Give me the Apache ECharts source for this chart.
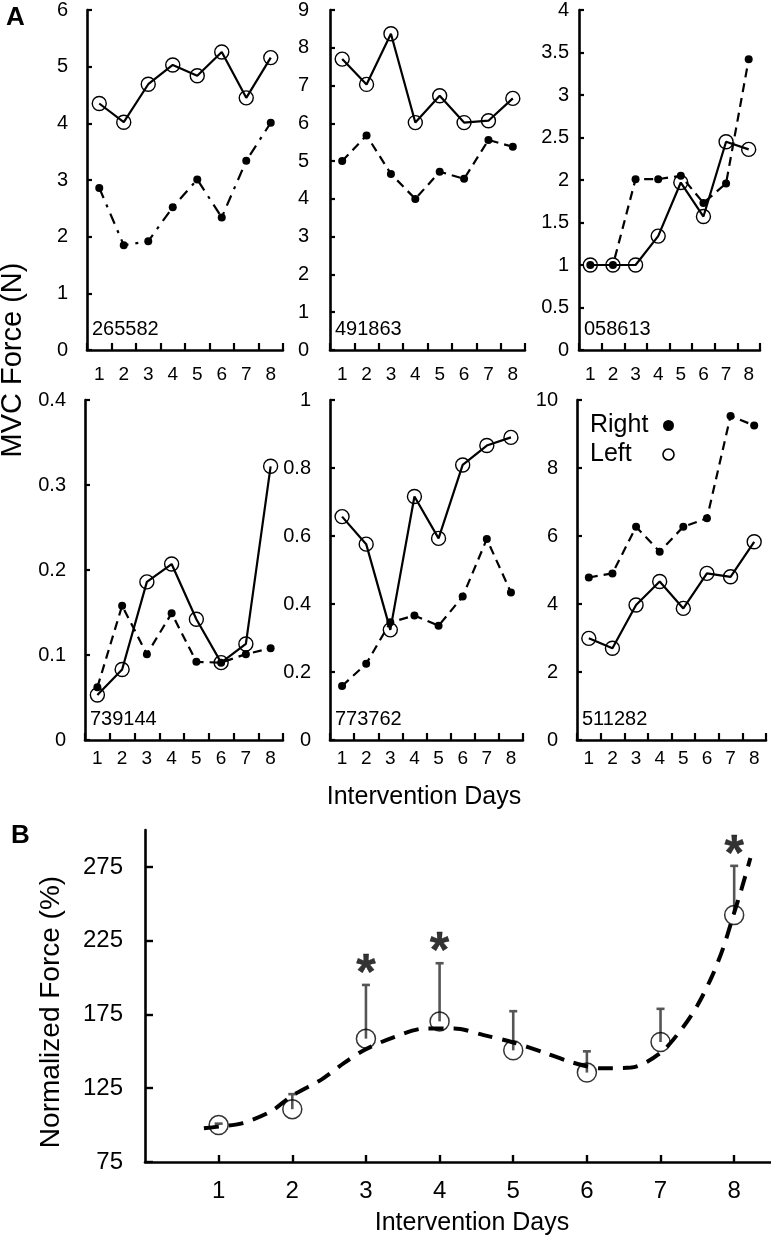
<!DOCTYPE html>
<html><head><meta charset="utf-8">
<script src="https://cdn.jsdelivr.net/npm/echarts@6/dist/echarts.min.js"></script>
<style>html,body{margin:0;padding:0;background:#fff}#c{width:771px;height:1238px}</style>
</head><body><div id="c"></div>
<script>
// ---------- DATA ----------
const days = ['1','2','3','4','5','6','7','8'];
const ids = ['265582','491863','058613','739144','773762','511282'];
const p1Left  = [4.35,4.02,4.69,5.03,4.84,5.26,4.45,5.16];
const p1Right = [2.86,1.85,1.92,2.52,3.01,2.34,3.34,4.01];
const p2Left  = [7.70,7.03,8.37,6.02,6.73,6.02,6.07,6.66];
const p2Right = [5.00,5.68,4.66,4.00,4.72,4.53,5.56,5.38];
const p3Left  = [1.00,1.00,1.00,1.34,1.97,1.57,2.45,2.36];
const p3Right = [1.00,1.00,2.01,2.01,2.05,1.73,1.96,3.42];
const p4Left  = [0.053,0.083,0.186,0.207,0.142,0.091,0.113,0.322];
const p4Right = [0.062,0.158,0.101,0.149,0.092,0.091,0.101,0.108];
const p5Left  = [0.657,0.576,0.324,0.716,0.593,0.809,0.866,0.890];
const p5Right = [0.159,0.224,0.346,0.366,0.336,0.422,0.591,0.434];
const p6Left  = [2.99,2.70,3.97,4.66,3.87,4.90,4.80,5.83];
const p6Right = [4.78,4.90,6.27,5.54,6.27,6.52,9.53,9.25];
const yMax      = [6, 9, 4, 0.4, 1, 10];
const yInterval = [1, 1, 0.5, 0.1, 0.2, 2];

// Panel B
const bDays   = [1,2,3,4,5,6,7,8];
const bMeans  = [100,110.8,158.6,170.3,150.7,135.6,156.3,242.4];
const bErrors = [1.0,10.2,36.4,39.4,26.5,14.4,22.5,33.3];
const bSigDays = [3,4,8];
const curveX = [0.8,1.0,1.3,1.7,2.0,2.4,2.7,3.0,3.4,3.8,4.2,4.6,5.0,5.4,5.8,6.2,6.6,7.0,7.3,7.5,7.7,7.85,8.0,8.1,8.22];
const curveY = [97.8,99,101,109,120,131,142,151.5,160,165.5,165.5,161,156,149.5,142.5,138.5,139,149,166,181,201,220,244,260,281];
const bYTicks = [75,125,175,225,275];
const bXTicks = [1,2,3,4,5,6,7,8];

// ---------- LAYOUT ----------
const FONT = 'Liberation Sans, Arial, sans-serif';
const leftData  = [p1Left,p2Left,p3Left,p4Left,p5Left,p6Left];
const rightData = [p1Right,p2Right,p3Right,p4Right,p5Right,p6Right];
const grids = [
  {left:87, top:10, width:196, height:340},
  {left:330,top:10, width:195, height:340},
  {left:579,top:10, width:181, height:340},
  {left:85, top:400,width:198, height:340},
  {left:330,top:400,width:193, height:340},
  {left:577,top:400,width:189, height:340}
];
const yLabelMargin = [19,21,10,19,19,19];
const xLabelMargin = [15,15,15,9,9,9];

const axisLine = {show:true, lineStyle:{color:'#000', width:2.6}};
const option = {
  animation:false,
  backgroundColor:'#fff',
  textStyle:{fontFamily:FONT, color:'#000'},
  grid: [],
  xAxis: [],
  yAxis: [],
  series: [],
  legend: {
    left:585, top:408, orient:'vertical', align:'right', selectedMode:false,
    itemGap:4, itemWidth:11, itemHeight:11,
    formatter: '{a|{name}}',
    textStyle:{fontSize:25, color:'#000', fontFamily:FONT,
      rich:{a:{width:68, align:'left', fontSize:25, color:'#000', fontFamily:FONT}}},
    data:[
      {name:'Right', icon:'circle', itemStyle:{color:'#000', borderWidth:0}},
      {name:'Left', icon:'circle', itemStyle:{color:'#fff', borderColor:'#000', borderWidth:1.6}}
    ]
  },
  graphic: []
};

for (let i = 0; i < 6; i++) {
  option.grid.push(Object.assign({containLabel:false}, grids[i]));
  option.xAxis.push({
    type:'category', gridIndex:i, data:days, boundaryGap:true,
    axisLine:axisLine,
    axisTick:{show:true, inside:true, length:7, lineStyle:{color:'#000', width:2.2}},
    axisLabel:{fontSize:19, color:'#000', margin:xLabelMargin[i], fontFamily:FONT},
    splitLine:{show:false}
  });
  option.yAxis.push({
    type:'value', gridIndex:i, min:0, max:yMax[i], interval:yInterval[i],
    axisLine:axisLine,
    axisTick:{show:true, inside:true, length:5, lineStyle:{color:'#000', width:2.2}},
    axisLabel:{fontSize:20, color:'#000', margin:yLabelMargin[i], fontFamily:FONT},
    splitLine:{show:false}
  });
  option.series.push({
    name:'Left', type:'line', xAxisIndex:i, yAxisIndex:i, data:leftData[i],
    symbol:'circle', symbolSize:14,
    itemStyle:{color:'rgba(255,255,255,0)', borderColor:'#000', borderWidth:1.4},
    lineStyle:{color:'#000', width:2.2, type:'solid'}, z:2
  });
  option.series.push({
    name:'Right', type:'line', xAxisIndex:i, yAxisIndex:i, data:rightData[i],
    symbol:'circle', symbolSize:8,
    itemStyle:{color:'#000', borderWidth:0},
    lineStyle:{color:'#000', width:2.2, type: i === 0 ? [11,7,3,7] : [9,6]}, z:3
  });
  option.graphic.push({
    type:'text', left:grids[i].left + 5, top:grids[i].top + grids[i].height - 31,
    style:{text:ids[i], font:'20px ' + FONT, fill:'#000'}
  });
}

// Panel B axes
option.grid.push({left:145, top:830, width:626, height:332});
option.xAxis.push({
  type:'value', gridIndex:6, min:0, max:8.5,
  axisLine:axisLine,
  axisTick:{show:true, inside:true, length:7, customValues:bXTicks, lineStyle:{color:'#000', width:2.4}},
  axisLabel:{fontSize:24, color:'#000', margin:17, customValues:bXTicks, fontFamily:FONT},
  splitLine:{show:false}
});
option.yAxis.push({
  type:'value', gridIndex:6, min:75, max:300,
  axisLine:axisLine,
  axisTick:{show:true, inside:true, length:8, customValues:bYTicks, lineStyle:{color:'#000', width:2.4}},
  axisLabel:{fontSize:24, color:'#000', margin:22, customValues:bYTicks, fontFamily:FONT},
  splitLine:{show:false}
});

option.series.push({
  type:'custom', xAxisIndex:6, yAxisIndex:6,
  data: bDays.map((d,k) => [d, bMeans[k], bErrors[k]]),
  renderItem: function(params, api){
    const x = api.value(0), m = api.value(1), e = api.value(2);
    const p0 = api.coord([x, m]);
    const p1 = api.coord([x, m + e]);
    return {type:'group', children:[
      {type:'line', shape:{x1:p0[0], y1:p0[1], x2:p1[0], y2:p1[1]}, style:{stroke:'#555', lineWidth:2.6}},
      {type:'line', shape:{x1:p1[0]-4, y1:p1[1], x2:p1[0]+4, y2:p1[1]}, style:{stroke:'#555', lineWidth:2.6}}
    ]};
  }, z:2
});
option.series.push({
  type:'scatter', xAxisIndex:6, yAxisIndex:6,
  data: bDays.map((d,k) => [d, bMeans[k]]),
  symbol:'circle', symbolSize:19,
  itemStyle:{color:'rgba(255,255,255,0)', borderColor:'#000', borderWidth:1.5}, z:3
});
option.series.push({
  type:'line', xAxisIndex:6, yAxisIndex:6,
  data: curveX.map((x,k) => [x, curveY[k]]),
  symbol:'none', smooth:0.3,
  lineStyle:{color:'#000', width:4, type:[15,10]}, z:4
});
option.series.push({
  type:'scatter', xAxisIndex:6, yAxisIndex:6,
  data: bSigDays.map(d => [d, bMeans[d-1] + bErrors[d-1]]),
  symbol:'circle', symbolSize:0,
  label:{show:true, formatter:'*', position:'top', distance:-15, fontSize:50, fontWeight:'bold', color:'#000',
    textBorderColor:'#000', textBorderWidth:0.4, fontFamily:FONT}, z:5
});

// Titles / text
option.graphic.push(
  {type:'text', left:6, top:5, style:{text:'A', font:'bold 26px ' + FONT, fill:'#000'}},
  {type:'text', left:11, top:823, style:{text:'B', font:'bold 26px ' + FONT, fill:'#000'}},
  {type:'text', x:13, y:360, rotation:Math.PI/2, style:{text:'MVC Force (N)', font:'29px ' + FONT, fill:'#000', textAlign:'center', textVerticalAlign:'middle'}},
  {type:'text', x:424, y:797, style:{text:'Intervention Days', font:'25px ' + FONT, fill:'#000', textAlign:'center', textVerticalAlign:'middle'}},
  {type:'text', x:51, y:1012, rotation:Math.PI/2, style:{text:'Normalized Force (%)', font:'28px ' + FONT, fill:'#000', textAlign:'center', textVerticalAlign:'middle'}},
  {type:'text', x:472, y:1223, style:{text:'Intervention Days', font:'25px ' + FONT, fill:'#000', textAlign:'center', textVerticalAlign:'middle'}}
);

const chart = echarts.init(document.getElementById('c'), null, {renderer:'canvas'});
chart.setOption(option);
</script></body></html>
